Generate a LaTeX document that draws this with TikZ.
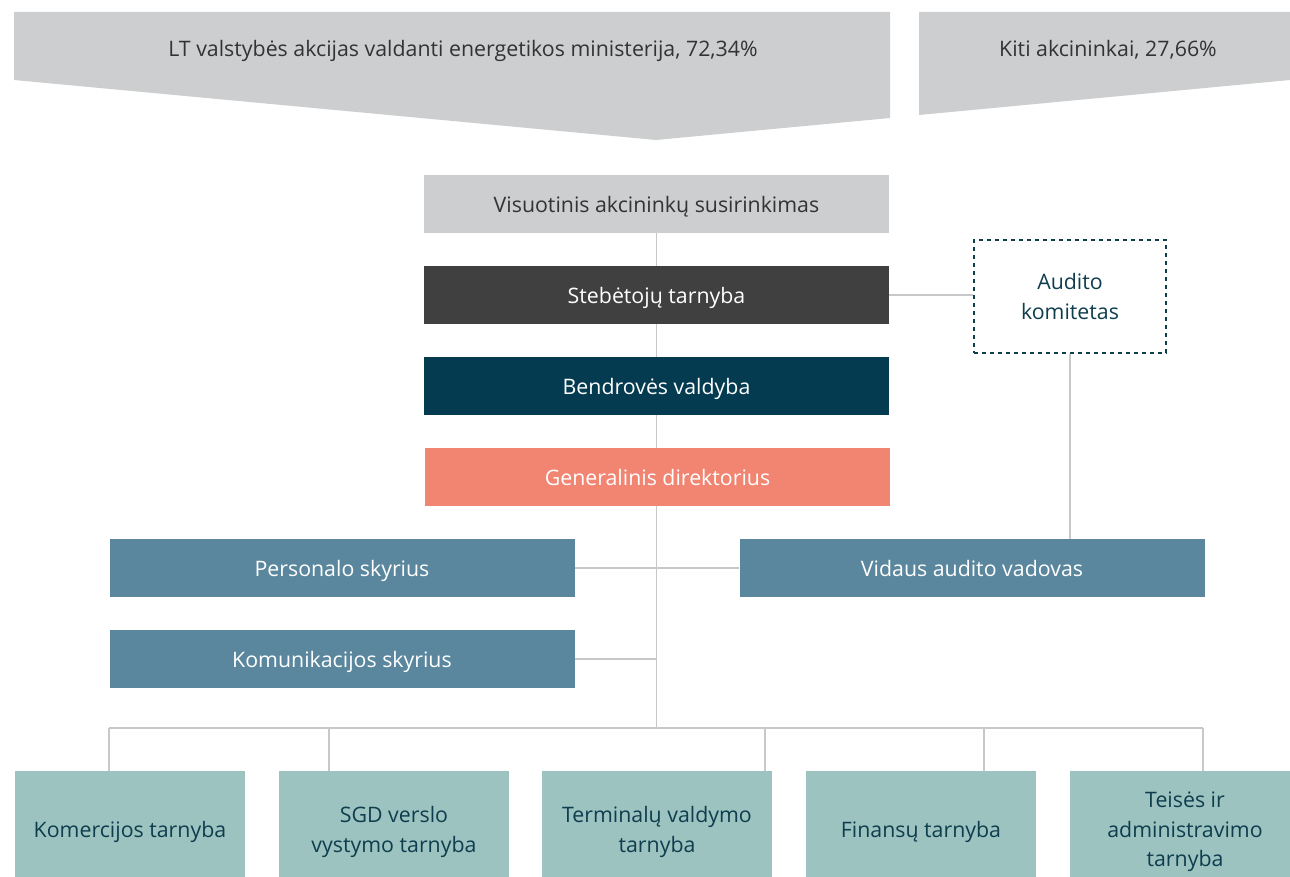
\documentclass[tikz,border=0pt]{standalone}
\usepackage{fontspec}
\setmainfont{Open Sans}
\usepackage{tikz}

\definecolor{shgray}{HTML}{CDCED0}
\definecolor{stebgray}{HTML}{404040}
\definecolor{bendteal}{HTML}{043B50}
\definecolor{gensalmon}{HTML}{F28472}
\definecolor{skyrblue}{HTML}{5A879E}
\definecolor{tarnteal}{HTML}{9CC3C0}
\definecolor{txtteal}{HTML}{0E3D4E}
\definecolor{linegray}{HTML}{C8C8C8}

\tikzset{
  box/.style={draw=none, inner sep=0pt, font=\fontsize{16}{22}\selectfont,
    minimum width=465*0.75pt, minimum height=58*0.75pt},
  onebox/.style={box, text height=1.25em, text depth=0em},
  tarnbox/.style={box, align=center, fill=tarnteal, text=txtteal,
    minimum width=230*0.75pt, minimum height=122*0.75pt},
  conn/.style={draw=linegray, line width=1.3pt}
}

\begin{document}
\begin{tikzpicture}[x=0.75pt,y=-0.75pt]
\useasboundingbox (0,0) rectangle (1290,877);

% akcininkai
\fill[shgray] (14,12) -- (890,12) -- (890,118) -- (656,140) -- (14,80) -- cycle;
\fill[shgray] (919,12) -- (1290,12) -- (1290,80) -- (919,115) -- cycle;
\node[onebox, text=black!80] (lt) at (463,48) {LT valstybės akcijas valdanti energetikos ministerija, 72,34\%};
\node[onebox, text=black!80] (kiti) at (1108,48) {Kiti akcininkai, 27,66\%};

% valdymas
\node[onebox, fill=shgray, text=black!80] (visu) at (656.5,204) {Visuotinis akcininkų susirinkimas};
\node[onebox, fill=stebgray, text=white] (steb) at (656.5,295) {Stebėtojų tarnyba};
\node[onebox, fill=bendteal, text=white] (bend) at (656.5,386) {Bendrovės valdyba};
\node[onebox, fill=gensalmon, text=white] (gen) at (657.5,477) {Generalinis direktorius};
\node[box, align=center, draw=txtteal, dashed, line width=0.9pt, text=txtteal,
  minimum width=192*0.75pt, minimum height=113*0.75pt] (audit) at (1070,296.5)
  {\raisebox{-2.5pt}{Audito}\\\raisebox{-2.5pt}{komitetas}};

\node[onebox, fill=skyrblue, text=white] (pers) at (342,568) {Personalo skyrius};
\node[onebox, fill=skyrblue, text=white] (vid) at (972,568) {Vidaus audito vadovas};
\node[onebox, fill=skyrblue, text=white] (kom) at (342,659) {Komunikacijos skyrius};

% tarnybos
\node[tarnbox] (t1) at (130,832) {Komercijos tarnyba};
\node[tarnbox] (t2) at (394,832) {SGD verslo\\vystymo tarnyba};
\node[tarnbox] (t3) at (657,832) {Terminalų valdymo\\tarnyba};
\node[tarnbox] (t4) at (921,832) {Finansų tarnyba};
\node[tarnbox] (t5) at (1185,832) {Teisės ir\\administravimo\\tarnyba};

\coordinate (bus) at (656.5,728);
\coordinate (d1) at (109,728);
\coordinate (d2) at (329,728);
\coordinate (d3) at (765,728);
\coordinate (d4) at (984,728);
\coordinate (d5) at (1203,728);

\draw[conn] (visu.south) -- (steb.north);
\draw[conn] (steb.south) -- (bend.north);
\draw[conn] (bend.south) -- (gen.north -| bend.south);
\draw[conn] (steb.east) -- (audit.west |- steb.east);
\draw[conn] (audit.south) -- (audit.south |- vid.north);
\draw[conn] (gen.south -| bus) -- (bus);
\draw[conn] (pers.east) -- (vid.west);
\draw[conn] (kom.east) -- (kom.east -| bus);
\draw[conn] (d1) -- (d5);
\draw[conn] (d1) -- (d1 |- t1.north);
\draw[conn] (d2) -- (d2 |- t2.north);
\draw[conn] (d3) -- (d3 |- t3.north);
\draw[conn] (d4) -- (d4 |- t4.north);
\draw[conn] (d5) -- (d5 |- t5.north);
\end{tikzpicture}
\end{document}
